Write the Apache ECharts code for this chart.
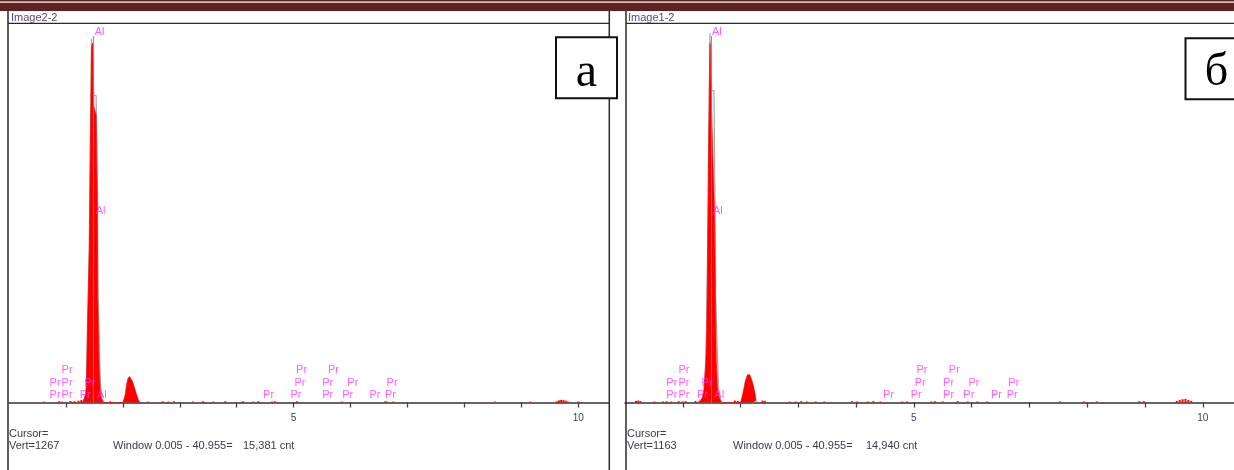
<!DOCTYPE html>
<html><head><meta charset="utf-8">
<script src="https://cdn.jsdelivr.net/npm/echarts@6/dist/echarts.min.js"></script>
<style>html,body{margin:0;padding:0;background:#fff}#c{width:1234px;height:470px}</style>
</head><body><div id="c"></div>
<script>
// ---------- data (energy in keV, intensity in counts) ----------
const panelTitles = ['Image2-2', 'Image1-2'];
const panelLetters = ['a', 'б'];
const vertScale = [1267, 1163];
const windowCounts = ['15,381 cnt', '14,940 cnt'];
const tickLabels = [5, 10];

// spectrum a (left)
const peakEnergyA = [1.28, 1.31, 1.34, 1.36, 1.38, 1.41, 1.43, 1.45, 1.47, 1.49, 1.51, 1.53, 1.55, 1.56, 1.58, 1.60, 1.62, 1.66,
                     2.00, 2.04, 2.07, 2.09, 2.12, 2.14, 2.17, 2.20, 2.23, 2.27, 2.30];
const peakCountA  = [0, 8, 25, 60, 265, 515, 880, 1190, 1200, 990, 985, 960, 680, 350, 140, 50, 15, 0,
                     0, 25, 65, 80, 87, 83, 70, 53, 33, 10, 0];
const outlineEnergyA = [1.36, 1.38, 1.41, 1.43, 1.45, 1.48, 1.49, 1.53, 1.555, 1.565, 1.59, 1.61, 1.64, 1.67];
const outlineCountA  = [60, 265, 515, 900, 1214, 1214, 1025, 1025, 700, 360, 150, 50, 10, 0];
const noiseEnergyA = [0.62, 0.88, 0.93, 1.08, 1.15, 1.22, 1.27, 1.78, 2.45, 2.70, 2.80, 2.90, 3.23, 3.41, 3.59, 3.80,
                      4.11, 4.29, 4.38, 4.62, 4.67, 5.06, 5.85, 6.61, 6.64, 6.75, 8.54, 9.16,
                      9.62, 9.66, 9.70, 9.74, 9.78, 9.82, 10.0];
const noiseCountA  = [3, 4, 3, 5, 4, 6, 8, 4, 3, 4, 3, 4, 3, 4, 3, 4,
                      4, 3, 4, 3, 4, 4, 3, 4, 3, 3, 3, 3,
                      4, 7, 9, 8, 6, 3, 3];

// spectrum б (right)
const peakEnergyB = [1.26, 1.30, 1.34, 1.37, 1.40, 1.415, 1.43, 1.45, 1.47, 1.49, 1.50, 1.53, 1.547, 1.565, 1.58, 1.60, 1.63, 1.67,
                     2.00, 2.04, 2.08, 2.12, 2.16, 2.19, 2.22, 2.25, 2.27, 2.29];
const peakCountB  = [0, 6, 15, 45, 130, 221, 466, 819, 1100, 1100, 886, 886, 600, 318, 130, 50, 15, 0,
                     0, 28, 64, 85, 85, 71, 54, 28, 6, 0];
const outlineEnergyB = [1.37, 1.40, 1.43, 1.45, 1.47, 1.49, 1.50, 1.54, 1.557, 1.57, 1.60, 1.62, 1.65, 1.68];
const outlineCountB  = [45, 130, 466, 830, 1131, 1131, 956, 956, 620, 330, 140, 50, 10, 0];
const noiseEnergyB = [0.19, 0.23, 0.27, 0.51, 0.66, 0.72, 0.80, 0.93, 1.00, 1.05, 1.22, 1.90, 1.95, 2.38, 2.42,
                      2.85, 2.95, 3.05, 3.15, 3.30, 3.45, 3.93, 4.02, 4.20, 4.30, 4.42, 4.80, 4.88, 5.30, 5.36,
                      5.50, 5.76, 5.93, 6.10, 6.27, 7.53, 7.94, 8.17, 8.90, 8.98,
                      9.55, 9.60, 9.65, 9.70, 9.75, 9.80];
const noiseCountB  = [5, 6, 4, 3, 3, 4, 3, 4, 3, 4, 5, 6, 5, 6, 5,
                      3, 3, 4, 3, 3, 3, 4, 3, 3, 4, 3, 3, 3, 3, 4,
                      3, 4, 3, 3, 3, 3, 3, 3, 4, 4,
                      5, 8, 10, 11, 8, 5];

// element line markers (keV) by label row (1 = top row)
const prRow1 = [1.02, 5.14, 5.70];
const prRow2 = [0.81, 1.02, 1.42, 5.11, 5.60, 6.04, 6.73];
const prRow3 = [0.81, 1.02, 1.34, 4.56, 5.04, 5.60, 5.95, 6.43, 6.70];
const alRow3 = [1.63];
const alKaLine = [1.487];

// ---------- layout ----------
const FONT = '"Liberation Sans", Arial, sans-serif';
const X_MAX = 10.54;
const grids = [
  {left: 9, top: 23, width: 600, height: 379.5},
  {left: 625, top: 23, width: 613, height: 379.5}
];
const PINK = '#ff33ff';
const rowOffsets = [-32.3, -19.8, -7.5];

function labelSeries(i, energies, text, offY, yVal, align, offX, extra) {
  return Object.assign({
    type: 'scatter', xAxisIndex: i, yAxisIndex: i, silent: true, z: 6,
    symbolSize: 1, itemStyle: {color: 'rgba(0,0,0,0)'},
    data: energies.map(e => [e, yVal]),
    label: {show: true, formatter: text, position: 'inside', align: align || 'center',
            offset: [offX || 0, offY], color: PINK, fontSize: 11, fontFamily: FONT}
  }, extra || {});
}

function panel(i, peakE, peakC, outE, outC, noiseE, noiseC) {
  const vert = vertScale[i];
  const markerTop = vert * (1 - 13 / grids[i].height);
  return [
    {type: 'line', xAxisIndex: i, yAxisIndex: i, silent: true, z: 2, symbol: 'none', animation: false,
     data: outE.map((e, k) => [e, outC[k]]),
     lineStyle: {color: '#a8a8a8', width: 1.2}},
    {type: 'line', xAxisIndex: i, yAxisIndex: i, silent: true, z: 3, symbol: 'none', animation: false,
     data: peakE.map((e, k) => [e, peakC[k]]),
     lineStyle: {color: '#ff0000', width: 0.6}, areaStyle: {color: '#ff0000', opacity: 1}},
    {type: 'bar', xAxisIndex: i, yAxisIndex: i, silent: true, z: 3, barWidth: 2, animation: false,
     data: noiseE.map((e, k) => [e, noiseC[k]]),
     itemStyle: {color: '#ff0000'}},
    labelSeries(i, prRow1, 'Pr', rowOffsets[0], 0),
    labelSeries(i, prRow2, 'Pr', rowOffsets[1], 0),
    labelSeries(i, prRow3, 'Pr', rowOffsets[2], 0),
    labelSeries(i, alRow3, 'Al', rowOffsets[2], 0),
    labelSeries(i, alKaLine, 'Al', 8.5, vert, 'left', 1, {
      markLine: {silent: true, symbol: 'none', animation: false, label: {show: false},
                 lineStyle: {color: PINK, width: 1, type: 'solid', opacity: 0.9},
                 data: [[{coord: [alKaLine[0], 0]}, {coord: [alKaLine[0], markerTop]}]]}
    }),
    labelSeries(i, alKaLine, 'Al', -2.2, vert / 2, 'left', 2)
  ];
}

const xAxes = grids.map((g, i) => ({
  type: 'value', gridIndex: i, min: 0, max: X_MAX, interval: 1,
  splitLine: {show: false},
  axisLine: {show: true, onZero: false, lineStyle: {color: '#333', width: 1.5}},
  axisTick: {show: true, inside: false, length: 5, lineStyle: {color: '#444', width: 1.3}},
  axisLabel: {show: true, margin: 11, color: '#3b3b55', fontSize: 10, fontFamily: FONT,
              showMinLabel: false, showMaxLabel: false,
              formatter: v => tickLabels.indexOf(v) >= 0 ? String(v) : ''}
}));
const yAxes = grids.map((g, i) => ({
  type: 'value', gridIndex: i, min: 0, max: vertScale[i], show: false
}));

function txt(x, y, text, size, color, family, align) {
  return {type: 'text', x: x, y: y, z: 10, silent: true,
          style: {text: text, font: size + 'px ' + (family || FONT), fill: color,
                  textAlign: align || 'left', align: align || 'left',
                  textVerticalAlign: 'middle', verticalAlign: 'middle'}};
}
function ln(x1, y1, x2, y2, w) {
  return {type: 'line', z: 8, silent: true, shape: {x1, y1, x2, y2},
          style: {stroke: '#2a2a2a', lineWidth: w || 1.5}};
}

const graphics = [
  {type: 'rect', z: 8, silent: true, shape: {x: 0, y: 0, width: 1234, height: 11}, style: {fill: '#612322'}},
  {type: 'rect', z: 9, silent: true, shape: {x: 0, y: 1.4, width: 1234, height: 1.3}, style: {fill: '#ffffff'}},
  ln(8, 11, 8, 470), ln(609.3, 11, 609.3, 470), ln(8, 23.3, 609.3, 23.3, 1.3),
  ln(626, 11, 626, 470), ln(626, 23.3, 1234, 23.3, 1.3),
  txt(11, 17.5, panelTitles[0], 11, '#5a4a6a'),
  txt(628, 17.5, panelTitles[1], 11, '#5a4a6a'),
  {type: 'rect', z: 11, silent: true, shape: {x: 556, y: 37.3, width: 61, height: 61},
   style: {fill: '#fff', stroke: '#111', lineWidth: 2}},
  {type: 'rect', z: 11, silent: true, shape: {x: 1185.5, y: 38.3, width: 61, height: 61},
   style: {fill: '#fff', stroke: '#111', lineWidth: 2}},
  Object.assign(txt(586.5, 73, panelLetters[0], 48, '#000', '"Liberation Serif", "Times New Roman", serif', 'center'), {z: 12}),
  Object.assign(txt(1216.5, 73, panelLetters[1], 46, '#000', '"Liberation Serif", "Times New Roman", serif', 'center'), {z: 12}),
  txt(9, 433.5, 'Cursor=', 11, '#3a3a4a'),
  txt(9, 446, 'Vert=' + vertScale[0], 11, '#3a3a4a'),
  txt(113, 446, 'Window 0.005 - 40.955=', 11, '#3a3a4a'),
  txt(243, 446, windowCounts[0], 11, '#3a3a4a'),
  txt(627, 433.5, 'Cursor=', 11, '#3a3a4a'),
  txt(627, 446, 'Vert=' + vertScale[1], 11, '#3a3a4a'),
  txt(733, 446, 'Window 0.005 - 40.955=', 11, '#3a3a4a'),
  txt(866, 446, windowCounts[1], 11, '#3a3a4a')
];

const chart = echarts.init(document.getElementById('c'), null, {renderer: 'canvas'});
chart.setOption({
  animation: false,
  backgroundColor: '#ffffff',
  grid: grids,
  xAxis: xAxes,
  yAxis: yAxes,
  series: [].concat(
    panel(0, peakEnergyA, peakCountA, outlineEnergyA, outlineCountA, noiseEnergyA, noiseCountA),
    panel(1, peakEnergyB, peakCountB, outlineEnergyB, outlineCountB, noiseEnergyB, noiseCountB)
  ),
  graphic: graphics
});
</script>
</body></html>
